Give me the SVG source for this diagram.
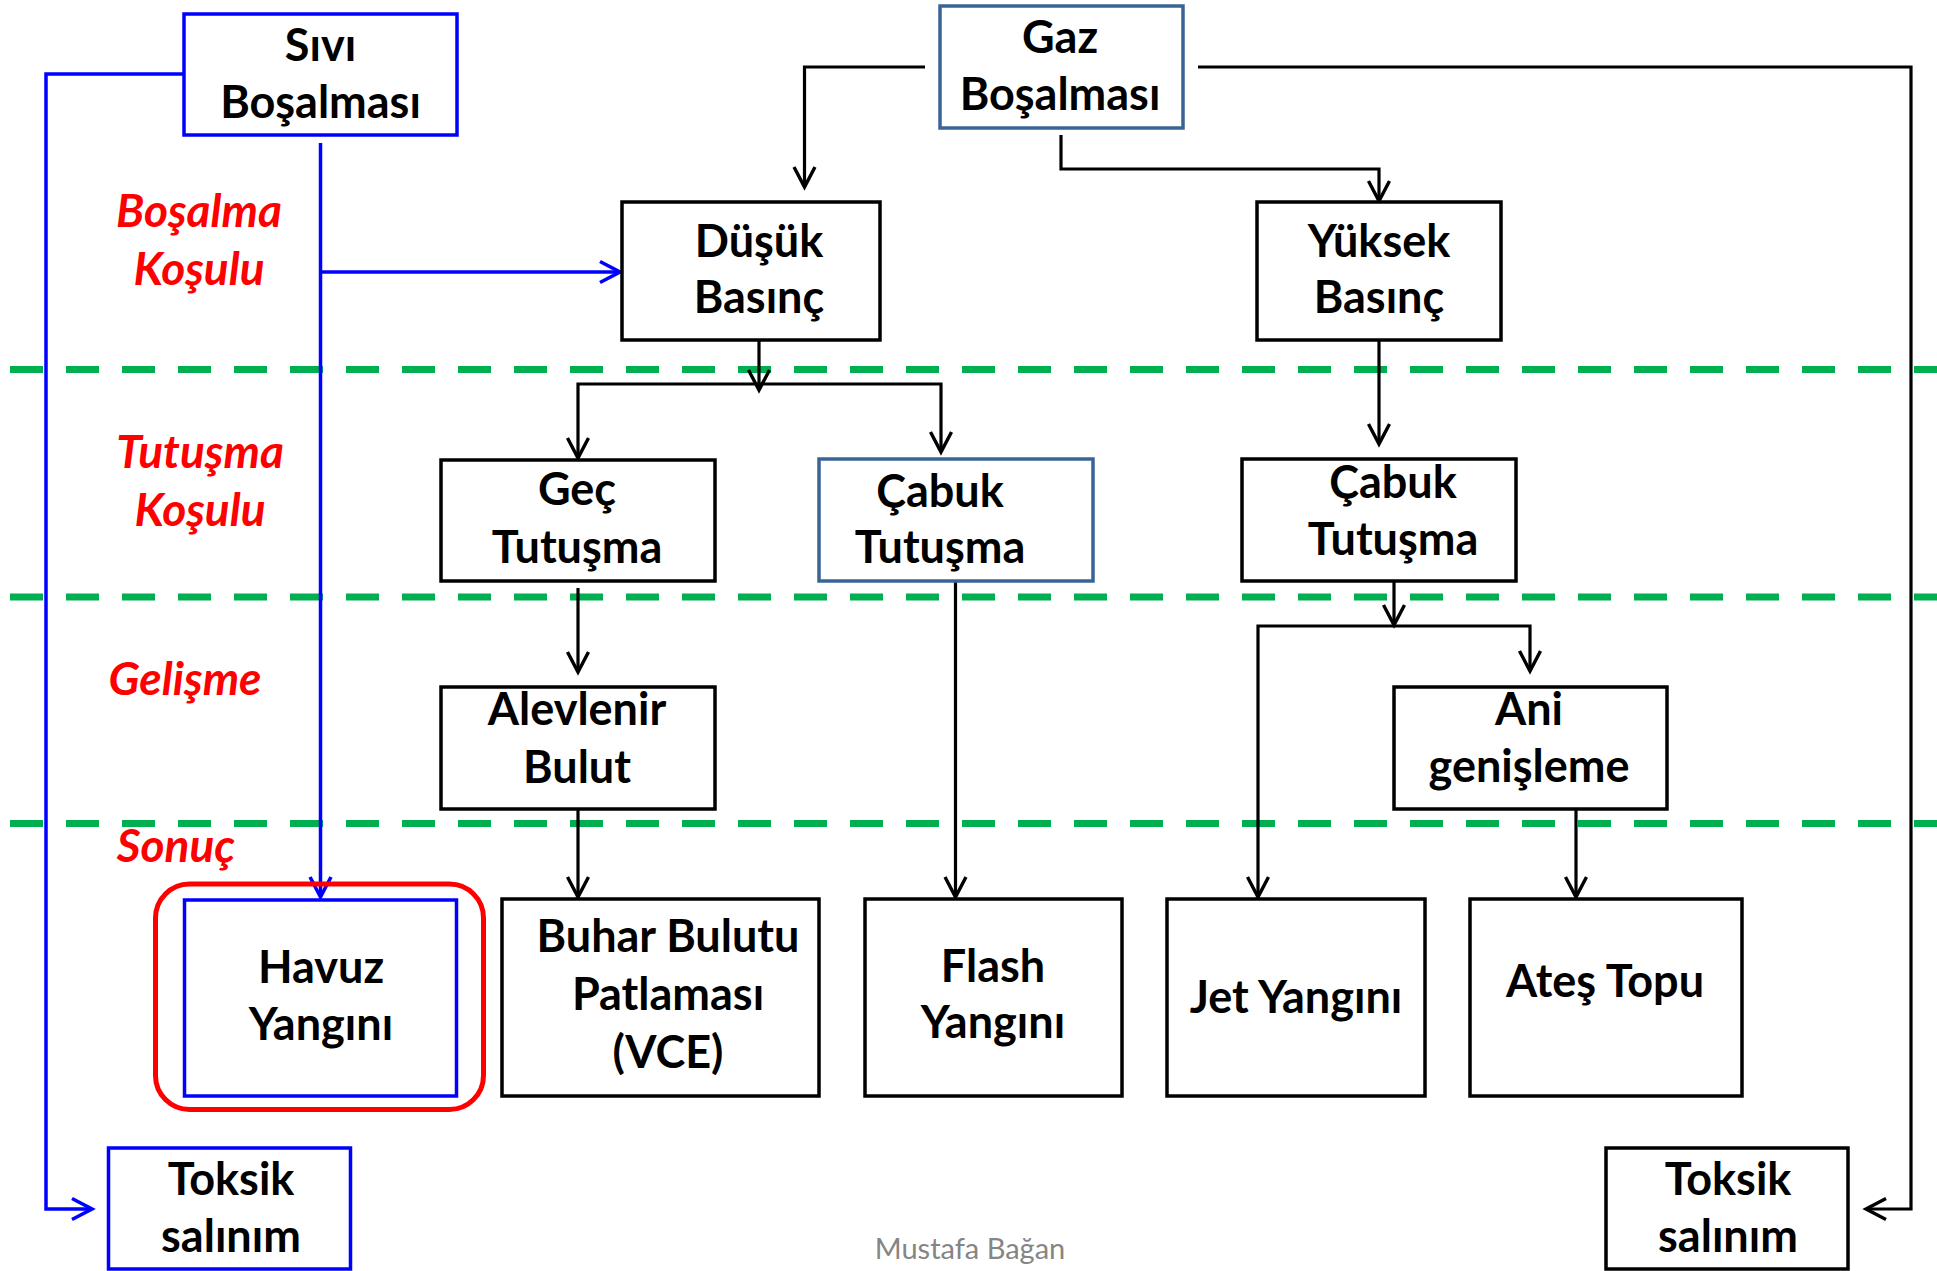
<svg xmlns="http://www.w3.org/2000/svg" width="1937" height="1271" viewBox="0 0 1937 1271">
<style>
.box{fill:#fff;stroke:#000;stroke-width:3.5}
.bbox{fill:#fff;stroke:#0000FF;stroke-width:3.5}
.sbox{fill:#fff;stroke:#3B6496;stroke-width:3.5}
.t{font-family:Lato,'Open Sans',sans-serif;font-weight:bold;font-size:45px;fill:#000;text-anchor:middle}
.lbl{font-family:Lato,'Open Sans',sans-serif;font-weight:bold;font-style:italic;font-size:46px;fill:#FF0000;text-anchor:middle}
.c{fill:none;stroke:#000;stroke-width:3.2;marker-end:url(#ak)}
.cb{fill:none;stroke:#0000FF;stroke-width:3.5;marker-end:url(#ab)}
.g{stroke:#00B050;stroke-width:7;stroke-dasharray:33 23}
.w{font-family:Lato,'Open Sans',sans-serif;font-size:29px;fill:#858585;text-anchor:middle}
</style>
<defs>
<marker id="ak" markerUnits="userSpaceOnUse" viewBox="-24 -14 28 28" refX="0" refY="0" markerWidth="28" markerHeight="28" orient="auto">
<path d="M-20,-10.5 L0,0 L-20,10.5" fill="none" stroke="#000" stroke-width="3.4"/>
</marker>
<marker id="ab" markerUnits="userSpaceOnUse" viewBox="-24 -14 28 28" refX="0" refY="0" markerWidth="28" markerHeight="28" orient="auto">
<path d="M-20,-10.5 L0,0 L-20,10.5" fill="none" stroke="#0000FF" stroke-width="3.6"/>
</marker>
</defs>
<rect width="1937" height="1271" fill="#fff"/>

<g id="guides">
<line class="g" x1="10" y1="369.5" x2="1937" y2="369.5"/>
<line class="g" x1="10" y1="597" x2="1937" y2="597"/>
<line class="g" x1="10" y1="823.5" x2="1937" y2="823.5"/>
</g>

<g id="stage-labels">
<text class="lbl" x="199" y="227">Boşalma</text>
<text class="lbl" x="199" y="285">Koşulu</text>
<text class="lbl" x="200" y="468">Tutuşma</text>
<text class="lbl" x="200" y="526">Koşulu</text>
<text class="lbl" x="185" y="695">Gelişme</text>
<text class="lbl" x="176" y="862">Sonuç</text>
</g>

<g id="connectors">
<path class="cb" d="M184,74 H46 V1209 H92"/>
<path class="cb" d="M320.5,143 V897"/>
<path class="cb" d="M320.5,272 H620"/>
<path class="c" d="M925,67 H804.5 V187"/>
<path class="c" d="M1198,67 H1911 V1209 H1866"/>
<path class="c" d="M1061,135 V169 H1379 V201"/>
<path class="c" d="M759,340 V390"/>
<path class="c" d="M759,384 H578 V458"/>
<path class="c" d="M759,384 H941 V452"/>
<path class="c" d="M1379,340 V444"/>
<path class="c" d="M578,588 V672"/>
<path class="c" d="M578,809 V897"/>
<path class="c" d="M955.5,581 V897"/>
<path class="c" d="M1394,581 V625"/>
<path class="c" d="M1394,626 H1258 V897"/>
<path class="c" d="M1394,626 H1530 V671"/>
<path class="c" d="M1576,809 V897"/>
</g>

<g id="n-sivi">
<rect class="bbox" x="184" y="14" width="273" height="121"/>
<text class="t" x="320.5" y="61">Sıvı</text>
<text class="t" x="320.5" y="118">Boşalması</text>
</g>
<g id="n-gaz">
<rect class="sbox" x="940" y="6" width="243" height="122"/>
<text class="t" x="1060" y="53">Gaz</text>
<text class="t" x="1060" y="110">Boşalması</text>
</g>
<g id="n-dusuk">
<rect class="box" x="622" y="202" width="258" height="138"/>
<text class="t" x="759" y="257">Düşük</text>
<text class="t" x="759" y="313">Basınç</text>
</g>
<g id="n-yuksek">
<rect class="box" x="1257" y="202" width="244" height="138"/>
<text class="t" x="1379" y="257">Yüksek</text>
<text class="t" x="1379" y="313">Basınç</text>
</g>
<g id="n-gec">
<rect class="box" x="441" y="460" width="274" height="121"/>
<text class="t" x="577" y="505">Geç</text>
<text class="t" x="577" y="563">Tutuşma</text>
</g>
<g id="n-cabuk1">
<rect class="sbox" x="819" y="459" width="274" height="122"/>
<text class="t" x="940" y="507">Çabuk</text>
<text class="t" x="940" y="563">Tutuşma</text>
</g>
<g id="n-cabuk2">
<rect class="box" x="1242" y="459" width="274" height="122"/>
<text class="t" x="1393" y="498">Çabuk</text>
<text class="t" x="1393" y="555">Tutuşma</text>
</g>
<g id="n-alevlenir">
<rect class="box" x="441" y="687" width="274" height="122"/>
<text class="t" x="577" y="725">Alevlenir</text>
<text class="t" x="577" y="783">Bulut</text>
</g>
<g id="n-ani">
<rect class="box" x="1394" y="687" width="273" height="122"/>
<text class="t" x="1529" y="725">Ani</text>
<text class="t" x="1529" y="782">genişleme</text>
</g>
<g id="n-havuz">
<rect x="155.5" y="884" width="328" height="225.5" rx="34" ry="34" fill="none" stroke="#FF0000" stroke-width="5"/>
<rect class="bbox" x="184.5" y="900" width="272" height="196" stroke-width="4"/>
<text class="t" x="321" y="983">Havuz</text>
<text class="t" x="321" y="1040">Yangını</text>
</g>
<g id="n-vce">
<rect class="box" x="502" y="899" width="317" height="197"/>
<text class="t" x="668" y="952">Buhar Bulutu</text>
<text class="t" x="668" y="1010">Patlaması</text>
<text class="t" x="668" y="1068">(VCE)</text>
</g>
<g id="n-flash">
<rect class="box" x="865" y="899" width="257" height="197"/>
<text class="t" x="993" y="982">Flash</text>
<text class="t" x="993" y="1038">Yangını</text>
</g>
<g id="n-jet">
<rect class="box" x="1167" y="899" width="258" height="197"/>
<text class="t" x="1296" y="1013">Jet Yangını</text>
</g>
<g id="n-ates">
<rect class="box" x="1470" y="899" width="272" height="197"/>
<text class="t" x="1605" y="997">Ateş Topu</text>
</g>
<g id="n-toksik1">
<rect class="bbox" x="108.5" y="1148" width="242" height="121"/>
<text class="t" x="231" y="1195">Toksik</text>
<text class="t" x="231" y="1252">salınım</text>
</g>
<g id="n-toksik2">
<rect class="box" x="1606" y="1148" width="242" height="121"/>
<text class="t" x="1728" y="1195">Toksik</text>
<text class="t" x="1728" y="1252">salınım</text>
</g>
<text class="w" x="970" y="1259">Mustafa Bağan</text>
</svg>
